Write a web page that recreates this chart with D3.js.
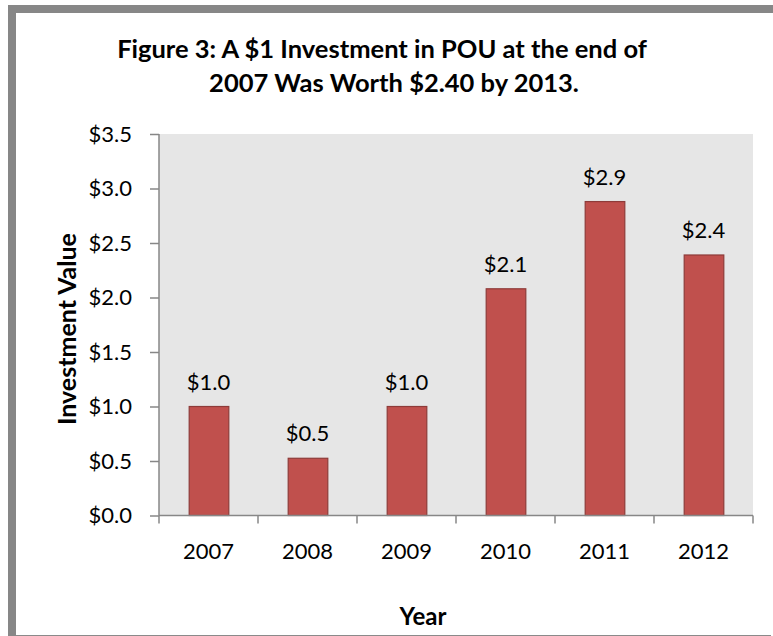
<!DOCTYPE html>
<html><head><meta charset="utf-8">
<script src="https://cdn.jsdelivr.net/npm/d3@7"></script>
<style>body{margin:0;background:#fff;}svg{display:block;}</style>
</head><body>
<script>
const years = ["2007","2008","2009","2010","2011","2012"];
const values = [1.0, 0.525, 1.0, 2.08, 2.88, 2.39];
const labels = ["$1.0","$0.5","$1.0","$2.1","$2.9","$2.4"];
const yTicks = [0,0.5,1.0,1.5,2.0,2.5,3.0,3.5];

const W=773,H=636;
const svg=d3.select("body").append("svg").attr("width",W).attr("height",H);
const font="Lato, 'Open Sans', sans-serif";

// frame
svg.append("rect").attr("x",8).attr("y",5).attr("width",W-8).attr("height",8).attr("fill","#878787");
svg.append("rect").attr("x",8).attr("y",5).attr("width",8).attr("height",H-5).attr("fill","#878787");
svg.append("line").attr("x1",16).attr("x2",771).attr("y1",635.5).attr("y2",635.5).attr("stroke","#8a8a8a").attr("stroke-width",1);

const m={l:159,r:753,t:134,b:515.5};
const x=d3.scaleBand().domain(years).range([m.l,m.r]).paddingInner(0.6).paddingOuter(0.3);
const y=d3.scaleLinear().domain([0,3.5]).range([m.b,m.t]);

svg.append("rect").attr("x",m.l).attr("y",m.t).attr("width",m.r-m.l).attr("height",m.b-m.t).attr("fill","#e6e6e6");

// bars
svg.selectAll("rect.bar").data(values).enter().append("rect").attr("class","bar")
  .attr("x",(d,i)=>x(years[i])+0.5).attr("y",d=>y(d))
  .attr("width",x.bandwidth()).attr("height",d=>y(0)-y(d))
  .attr("fill","#c0504d").attr("stroke","#8e3b39").attr("stroke-width",1.2);

svg.selectAll("text.lbl").data(values).enter().append("text")
  .attr("x",(d,i)=>x(years[i])+x.bandwidth()/2).attr("y",d=>y(d)-17)
  .attr("text-anchor","middle").attr("font-family",font).attr("font-size",22).attr("fill","#000")
  .text((d,i)=>labels[i]);

// y axis
const ya=svg.append("g").attr("transform",`translate(${m.l},0)`)
  .call(d3.axisLeft(y).tickValues(yTicks).tickFormat(d=>"$"+d.toFixed(1)).tickSize(9).tickPadding(18));
ya.selectAll("path,line").attr("stroke","#878787").attr("stroke-width",1.5);
ya.select(".domain").attr("d",`M0,${m.t}V${m.b}`);
ya.selectAll("text").attr("font-family",font).attr("font-size",22).attr("fill","#000").attr("x",-27);

// x axis
const xEdge=d3.scaleLinear().domain([0,6]).range([m.l,m.r]);
const xa=svg.append("g").attr("transform",`translate(0,${m.b})`);
xa.append("line").attr("x1",m.l).attr("x2",m.r).attr("stroke","#878787").attr("stroke-width",1.5);
xa.selectAll("line.t").data(d3.range(7)).enter().append("line")
  .attr("x1",d=>xEdge(d)).attr("x2",d=>xEdge(d)).attr("y1",0).attr("y2",8)
  .attr("stroke","#878787").attr("stroke-width",1.5);
xa.selectAll("text").data(years).enter().append("text")
  .attr("x",d=>x(d)+x.bandwidth()/2).attr("y",43).attr("text-anchor","middle")
  .attr("font-family",font).attr("font-size",22).attr("fill","#000").text(d=>d);

// titles
svg.append("text").attr("x",382).attr("y",58).attr("text-anchor","middle")
  .attr("font-family",font).attr("font-weight","bold").attr("font-size",25.5).text("Figure 3: A $1 Investment in POU at the end of");
svg.append("text").attr("x",394).attr("y",92).attr("text-anchor","middle")
  .attr("font-family",font).attr("font-weight","bold").attr("font-size",25.5).text("2007 Was Worth $2.40 by 2013.");
svg.append("text").attr("x",423).attr("y",625).attr("text-anchor","middle")
  .attr("font-family",font).attr("font-weight","bold").attr("font-size",24).text("Year");
svg.append("text").attr("transform","translate(76,329) rotate(-90)").attr("text-anchor","middle")
  .attr("font-family",font).attr("font-weight","bold").attr("font-size",25).text("Investment Value");
</script>
</body></html>
